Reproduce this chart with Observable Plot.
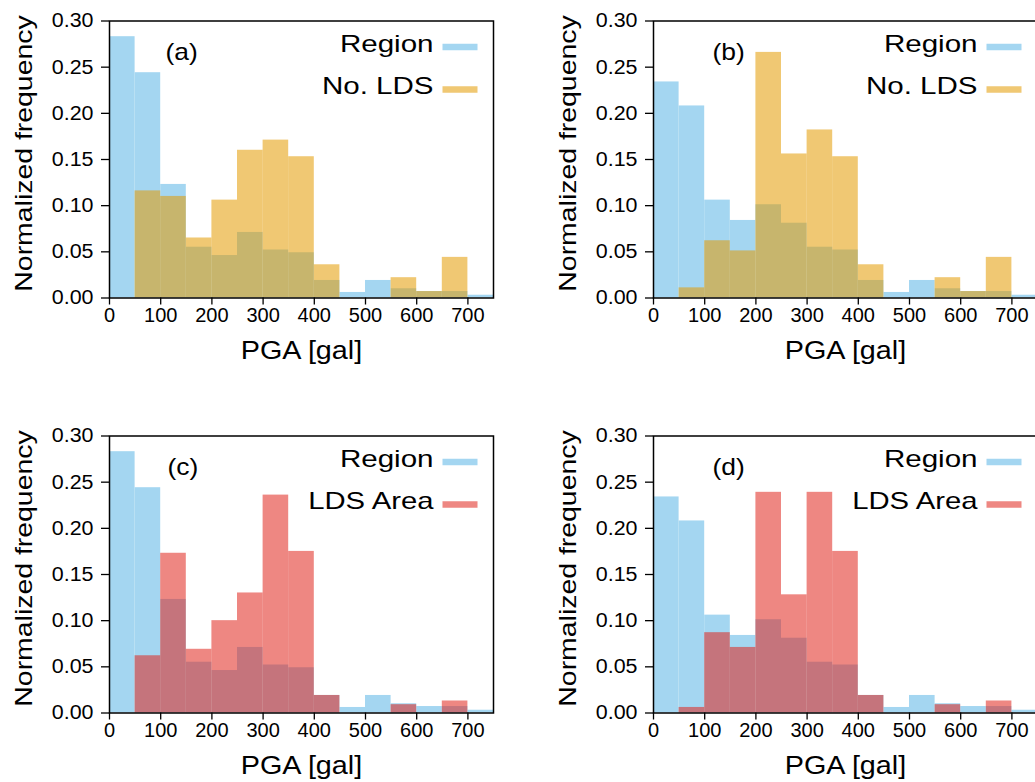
<!DOCTYPE html>
<html>
<head>
<meta charset="utf-8">
<script src="https://cdn.jsdelivr.net/npm/d3@7"></script>
<script src="https://cdn.jsdelivr.net/npm/@observablehq/plot@0.6"></script>
<style>
  html, body { margin: 0; padding: 0; background: white; overflow: hidden; }
  #root { position: relative; width: 1035px; height: 782px; overflow: hidden; background: white; }
  .panel { position: absolute; width: 520px; height: 367px; }
  .panel svg { max-width: none !important; }
</style>
</head>
<body>
<div id="root"></div>
<script>
// ---- Data ----
const pgaBinStart = [0, 50, 100, 150, 200, 250, 300, 350, 400, 450, 500, 550, 600, 650, 700];
const binWidth = 50;
const regionAC = [0.283, 0.244, 0.123, 0.055, 0.046, 0.071, 0.052, 0.049, 0.019, 0.006, 0.019, 0.010, 0.007, 0.007, 0.003];
const regionBD = [0.234, 0.208, 0.106, 0.084, 0.101, 0.081, 0.055, 0.052, 0.019, 0.006, 0.019, 0.010, 0.007, 0.007, 0.003];
const noLdsA   = [0, 0.116, 0.110, 0.065, 0.106, 0.160, 0.171, 0.153, 0.036, 0, 0, 0.022, 0.007, 0.044, 0];
const noLdsB   = [0, 0.011, 0.062, 0.051, 0.266, 0.156, 0.182, 0.153, 0.036, 0, 0, 0.022, 0.007, 0.044, 0];
const ldsAreaC = [0, 0.062, 0.173, 0.069, 0.100, 0.130, 0.236, 0.175, 0.019, 0, 0, 0.009, 0, 0.013, 0];
const ldsAreaD = [0, 0.006, 0.087, 0.071, 0.239, 0.128, 0.239, 0.175, 0.019, 0, 0, 0.009, 0, 0.013, 0];
const xTicks = [0, 100, 200, 300, 400, 500, 600, 700];
const yTicks = [0, 0.05, 0.10, 0.15, 0.20, 0.25, 0.30];
const panelLabels = ["(a)", "(b)", "(c)", "(d)"];
const seriesNames = ["Region", "No. LDS", "LDS Area"];

// ---- Styles ----
const FONT = "'Liberation Sans', Arial, Helvetica, sans-serif";
const BLUE = "rgb(164,214,241)";
const ORANGE = "rgb(228,155,0)";
const RED = "rgb(224,37,28)";
const OPAC = 0.55;
const SWATCH = { draw(ctx) { ctx.rect(-17.5, -3.3, 35, 6.6); } };

function rows(values) {
  return pgaBinStart.map((x0, i) => ({ x1: x0, x2: x0 + binWidth, v: values[i] }));
}

function panel({ label, region, other, otherName, otherFill, labelDx }) {
  return Plot.plot({
    width: 520,
    height: 367,
    marginLeft: 109,
    marginRight: 27,
    marginTop: 20.5,
    marginBottom: 69.5,
    style: { fontFamily: FONT, fontSize: "20px", background: "white", color: "black", overflow: "visible" },
    x: { domain: [0, 750], label: null },
    y: { domain: [0, 0.30], label: null },
    marks: [
      Plot.rectY(rows(region), { x1: "x1", x2: "x2", y: "v", fill: BLUE }),
      Plot.rectY(rows(other), { x1: "x1", x2: "x2", y: "v", fill: otherFill, fillOpacity: OPAC }),
      Plot.axisX({ ticks: xTicks, tickSize: 7, tickPadding: 3, label: null, strokeWidth: 1.3, fontSize: 20 }),
      Plot.axisY({ ticks: yTicks, tickSize: 8, tickPadding: 8, tickFormat: d => d.toFixed(2), label: null, strokeWidth: 1.3, fontSize: 20 }),
      Plot.frame({ stroke: "black", strokeWidth: 1.5 }),
      Plot.text(["Normalized frequency"], { frameAnchor: "left", textAnchor: "middle", lineAnchor: "middle", rotate: -90, dx: -85, dy: -6, fontSize: 24.5 }),
      Plot.text(["PGA [gal]"], { frameAnchor: "bottom", textAnchor: "middle", lineAnchor: "middle", dy: 52.5, fontSize: 25 }),
      Plot.text([label], { frameAnchor: "top-left", textAnchor: "start", lineAnchor: "middle", dx: labelDx, dy: 31.5, fontSize: 24 }),
      Plot.text([seriesNames[0]], { frameAnchor: "top-right", textAnchor: "end", lineAnchor: "middle", dx: -60, dy: 23.5, fontSize: 24 }),
      Plot.text([otherName], { frameAnchor: "top-right", textAnchor: "end", lineAnchor: "middle", dx: -60, dy: 65.5, fontSize: 24 }),
      Plot.dot([0], { frameAnchor: "top-right", dx: -33.5, dy: 26, symbol: SWATCH, fill: BLUE }),
      Plot.dot([0], { frameAnchor: "top-right", dx: -33.5, dy: 68.5, symbol: SWATCH, fill: otherFill, fillOpacity: OPAC })
    ]
  });
}

const root = document.getElementById("root");
const specs = [
  { left: 0,   top: 0,     label: panelLabels[0], region: regionAC, other: noLdsA,   otherName: seriesNames[1], otherFill: ORANGE, labelDx: 56 },
  { left: 544, top: 0,     label: panelLabels[1], region: regionBD, other: noLdsB,   otherName: seriesNames[1], otherFill: ORANGE, labelDx: 59 },
  { left: 0,   top: 414.5, label: panelLabels[2], region: regionAC, other: ldsAreaC, otherName: seriesNames[2], otherFill: RED,    labelDx: 58 },
  { left: 544, top: 414.5, label: panelLabels[3], region: regionBD, other: ldsAreaD, otherName: seriesNames[2], otherFill: RED,    labelDx: 59 }
];

const STRETCH = {
  "Normalized frequency": 1.16,
  "PGA [gal]": 1.15,
  "Region": 1.23,
  "No. LDS": 1.23,
  "LDS Area": 1.22,
  "(a)": 1.1, "(b)": 1.1, "(c)": 1.1, "(d)": 1.1
};

for (const s of specs) {
  const div = document.createElement("div");
  div.className = "panel";
  div.style.left = s.left + "px";
  div.style.top = s.top + "px";
  div.appendChild(panel(s));
  root.appendChild(div);
  for (const t of div.querySelectorAll("text")) {
    const txt = t.textContent;
    const f = STRETCH[txt] || (/^0\.\d\d$/.test(txt) ? 1.07 : 0);
    if (f) {
      const L = t.getComputedTextLength();
      t.setAttribute("textLength", (L * f).toFixed(1));
      t.setAttribute("lengthAdjust", "spacingAndGlyphs");
    }
  }
}
</script>
</body>
</html>
